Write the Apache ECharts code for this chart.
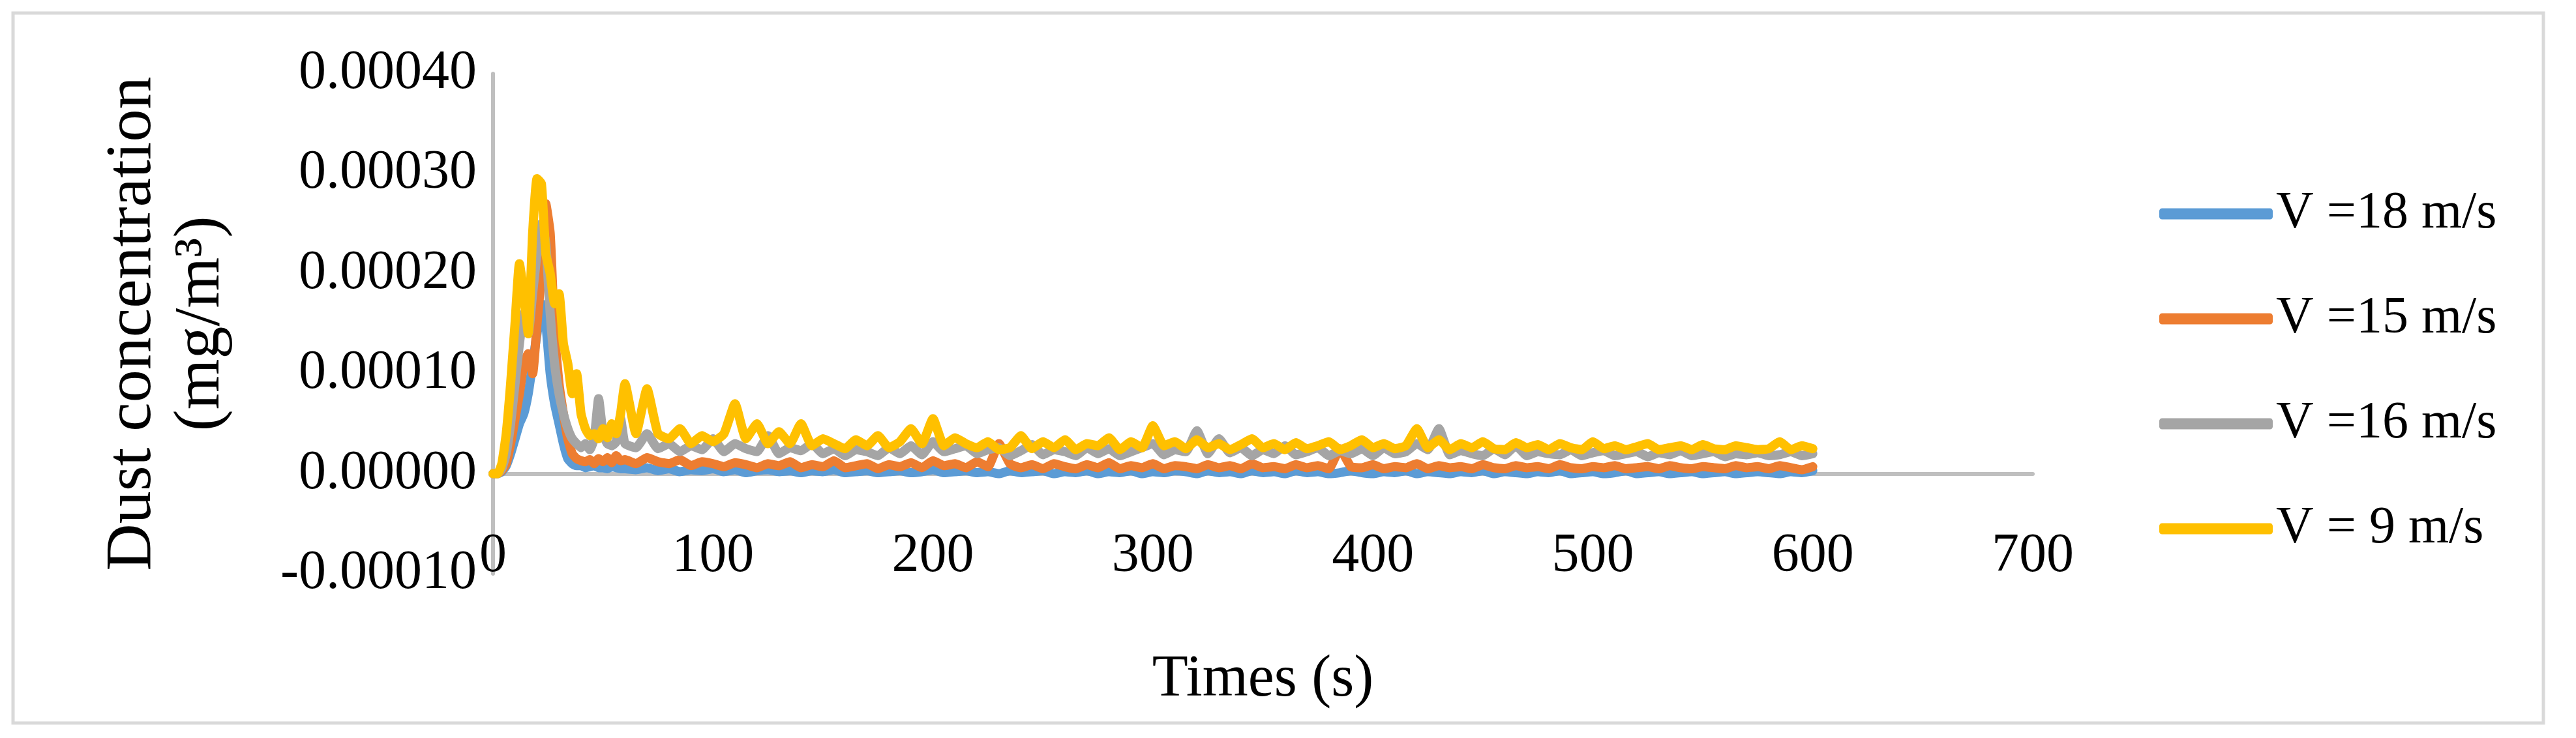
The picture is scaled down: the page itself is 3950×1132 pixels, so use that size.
<!DOCTYPE html>
<html>
<head>
<meta charset="utf-8">
<script src="https://cdn.jsdelivr.net/npm/echarts@6/dist/echarts.min.js"></script>
<style>
  html, body { margin: 0; padding: 0; background: #fff; }
  #chart { width: 3950px; height: 1132px; }
</style>
</head>
<body>
<div id="chart"></div>
<script>
// time samples (s)
const times = [0,2,4,6,8,10,12,14,16,18,20,22,24,26,28,30,32,34,36,38,40,42,44,46,48,50,52,54,56,58,60,
  65,70,75,80,85,90,95,100,105,110,115,120,125,130,135,140,145,150,155,160,165,170,175,180,185,190,195,200,
  205,210,215,220,225,230,235,240,245,250,255,260,265,270,275,280,285,290,295,300,305,310,315,320,325,330,
  335,340,345,350,355,360,365,370,375,380,385,390,395,400,405,410,415,420,425,430,435,440,445,450,455,460,
  465,470,475,480,485,490,495,500,505,510,515,520,525,530,535,540,545,550,555,560,565,570,575,580,585,590,595,600];

// concentrations in units of 1e-5 mg/m3
const v18 = [0,0,0.2,0.8,2,3.5,5,6,8,11,14,17,15,10,7,5,3,1.5,1,0.8,0.8,0.6,0.7,0.8,0.6,0.6,0.5,0.7,0.6,0.5,0.5,
  0.4,0.6,0.3,0.5,0.2,0.4,0.3,0.5,0.2,0.4,0.1,0.3,0.4,0.2,0.3,0.1,0.3,0.2,0.4,0.1,0.2,0.3,0.1,0.2,0.3,0.1,0.2,0.4,
  0.1,0.2,0.3,0.1,0.2,0,0.3,0.1,0.2,0.3,0,0.2,0.1,0.3,0,0.2,0.1,0.3,0,0.2,0.1,0.3,0.2,0,0.3,0.1,
  0.2,0,0.3,0.1,0.2,0,0.3,0.1,0.2,0,0.1,0.3,0.1,0,0.2,0.1,0.3,0,0.2,0.1,0,0.2,0.1,0.3,
  0,0.2,0.1,0,0.2,0.1,0.3,0,0.1,0.2,0,0.1,0.3,0,0.1,0.2,0,0.1,0.2,0,0.1,0.2,0,0.1,0.2,
  0.1,0,0.2,0.1,0.3,0.1,0.2,0.4];
const v15 = [0,0,0.3,1,3,5.5,8,11,12,10,15,20,27,24,14,9,6,3.5,2,1.5,1.3,1.2,1.4,1.0,1.5,1.2,1.6,1.1,1.8,1.3,1.4,
  1.0,1.6,1.2,1.0,1.4,0.8,1.2,1.0,0.7,1.1,0.9,0.6,1.0,0.8,1.2,0.6,0.9,0.7,1.3,0.6,0.8,1.0,0.5,0.9,0.7,1.1,0.6,1.3,
  0.8,1.0,0.6,1.2,0.7,3,1.0,0.6,0.9,0.5,1.0,0.7,0.5,0.9,0.6,1.1,0.5,0.8,0.6,1.0,0.5,0.8,0.7,0.5,0.9,0.6,
  0.8,0.5,1.0,0.6,0.7,0.5,0.9,0.6,0.8,0.5,2.5,0.7,0.6,0.9,0.5,0.7,0.6,1.0,0.5,0.8,0.6,0.7,0.5,0.9,
  0.6,0.5,0.8,0.6,0.7,0.5,0.9,0.6,0.5,0.7,0.6,0.8,0.5,0.6,0.7,0.5,0.8,0.6,0.5,0.7,0.6,0.5,0.8,0.6,0.7,
  0.5,0.8,0.6,0.4,0.7,0.5,0.6,0.8];
const v16 = [0,0,0.5,2,5,9,13,16,14,18,22,25,23,16,11,8,6,4.5,3.5,3,2.6,3,2.4,3.5,7.5,4,3,2.8,3.2,5.5,3.0,
  2.6,4,2.5,3,2.2,2.8,2.4,3.5,2.2,3.0,2.5,2.2,3.8,2.0,2.6,2.3,3.0,2.0,2.5,1.8,2.4,2.2,1.8,2.6,2.0,2.8,1.9,3.2,
  2.2,2.5,2.8,2.0,2.4,2.6,1.8,2.3,2.9,1.9,2.4,2.2,1.8,2.6,2.0,2.5,1.8,2.2,2.6,3.0,1.9,2.4,2.2,4.3,2.0,3.5,
  2.1,2.6,1.8,2.4,2.0,2.8,1.9,2.2,2.6,1.8,2.3,2.0,2.5,1.8,2.6,2.0,2.2,3.0,2.4,4.5,1.9,2.3,2.0,1.8,2.5,1.9,
  2.8,1.8,2.2,2.0,1.9,2.4,1.8,2.1,2.3,1.8,2.0,2.2,1.7,2.1,1.9,2.3,1.8,2.0,2.2,1.7,2.0,1.9,2.1,1.8,1.9,
  2.2,1.8,2.0,2.4,1.7,2.1,1.9,2.2];
const v9 = [0,0,1,4,9,15,21,18,14,24,29.5,29,22,20,17,18,13,11,8,10,6,4.5,3.8,4,3.5,4.5,3.6,5,4,6,9,
  4,8.5,4,3.5,4.5,3,3.8,3.2,4,7,3.5,5,3,4.2,3,5,2.8,3.5,3,2.5,3.4,2.8,3.8,2.6,3.2,4.5,3,5.5,
  2.8,3.6,3,2.6,3.2,2.4,2.6,3.8,2.5,3.2,2.6,3.4,2.4,3,2.8,3.6,2.4,3.2,2.6,4.8,2.8,3.2,2.5,3.4,2.6,3.0,
  2.4,2.9,3.5,2.6,3,2.4,3.1,2.5,2.8,3.2,2.4,2.8,3.4,2.6,3,2.5,2.8,4.5,2.6,3.4,2.4,3.0,2.6,3.2,2.5,2.4,
  3.1,2.6,2.9,2.4,3.0,2.6,2.4,3.2,2.5,2.8,2.4,2.7,3.0,2.4,2.6,2.8,2.4,2.9,2.5,2.4,2.8,2.6,2.4,2.5,3.2,
  2.4,2.8,2.5,3.3,2.4,2.7,2.6,2.5];

const seriesNames = ['V =18 m/s', 'V =15 m/s', 'V =16 m/s', 'V = 9 m/s'];
const seriesValues = [v18, v15, v16, v9];
const colors = ['#5B9BD5', '#ED7D31', '#A5A5A5', '#FFC000'];
const yTicks = [-0.0001, 0, 0.0001, 0.0002, 0.0003, 0.0004];

const font = 'Liberation Serif';
const chart = echarts.init(document.getElementById('chart'));

const series = seriesNames.map((name, i) => ({
  name: name,
  type: 'line',
  xAxisIndex: 0,
  showSymbol: false,
  smooth: 0.15,
  lineStyle: { width: 14, color: colors[i], cap: 'round', join: 'round' },
  itemStyle: { color: colors[i] },
  data: times.map((t, j) => [t, seriesValues[i][j] * 1e-5])
}));

chart.setOption({
  animation: false,
  color: colors,
  graphic: [{
    type: 'rect',
    shape: { x: 20, y: 20, width: 3880, height: 1089 },
    style: { fill: 'none', stroke: '#D9D9D9', lineWidth: 5 }
  }],
  grid: { left: 756, top: 113, width: 2361, height: 767 },
  legend: {
    orient: 'vertical',
    left: 3306,
    top: 283,
    icon: 'roundRect',
    itemWidth: 174,
    itemHeight: 17,
    itemGap: 81,
    textStyle: { fontFamily: font, fontSize: 80, color: '#000', lineHeight: 80, padding: [0, 0, 0, 0] },
    data: seriesNames
  },
  xAxis: [{
    type: 'value',
    min: 0,
    max: 700,
    interval: 100,
    name: 'Times (s)',
    nameLocation: 'middle',
    nameGap: 118,
    nameTextStyle: { fontFamily: font, fontSize: 90, color: '#000' },
    axisLine: { show: false, onZero: false },
    axisTick: { show: false },
    splitLine: { show: false },
    axisLabel: { fontFamily: font, fontSize: 84, color: '#000', margin: -68 }
  }, {
    type: 'value',
    min: 0,
    max: 700,
    position: 'bottom',
    axisLine: { show: true, onZero: true, lineStyle: { color: '#BFBFBF', width: 6 } },
    axisTick: { show: false },
    axisLabel: { show: false },
    splitLine: { show: false }
  }],
  yAxis: {
    type: 'value',
    min: yTicks[0],
    max: yTicks[yTicks.length - 1],
    interval: 0.0001,
    name: 'Dust concentration\n(mg/m³)',
    nameLocation: 'middle',
    nameGap: 395,
    nameRotate: 90,
    nameTextStyle: { fontFamily: font, fontSize: 100, color: '#000', lineHeight: 105 },
    axisLine: { show: true, lineStyle: { color: '#BFBFBF', width: 6 } },
    axisTick: { show: false },
    splitLine: { show: false },
    axisLabel: {
      fontFamily: font, fontSize: 84, color: '#000', margin: 25,
      formatter: v => v.toFixed(5)
    }
  },
  series: series
});
</script>
</body>
</html>
